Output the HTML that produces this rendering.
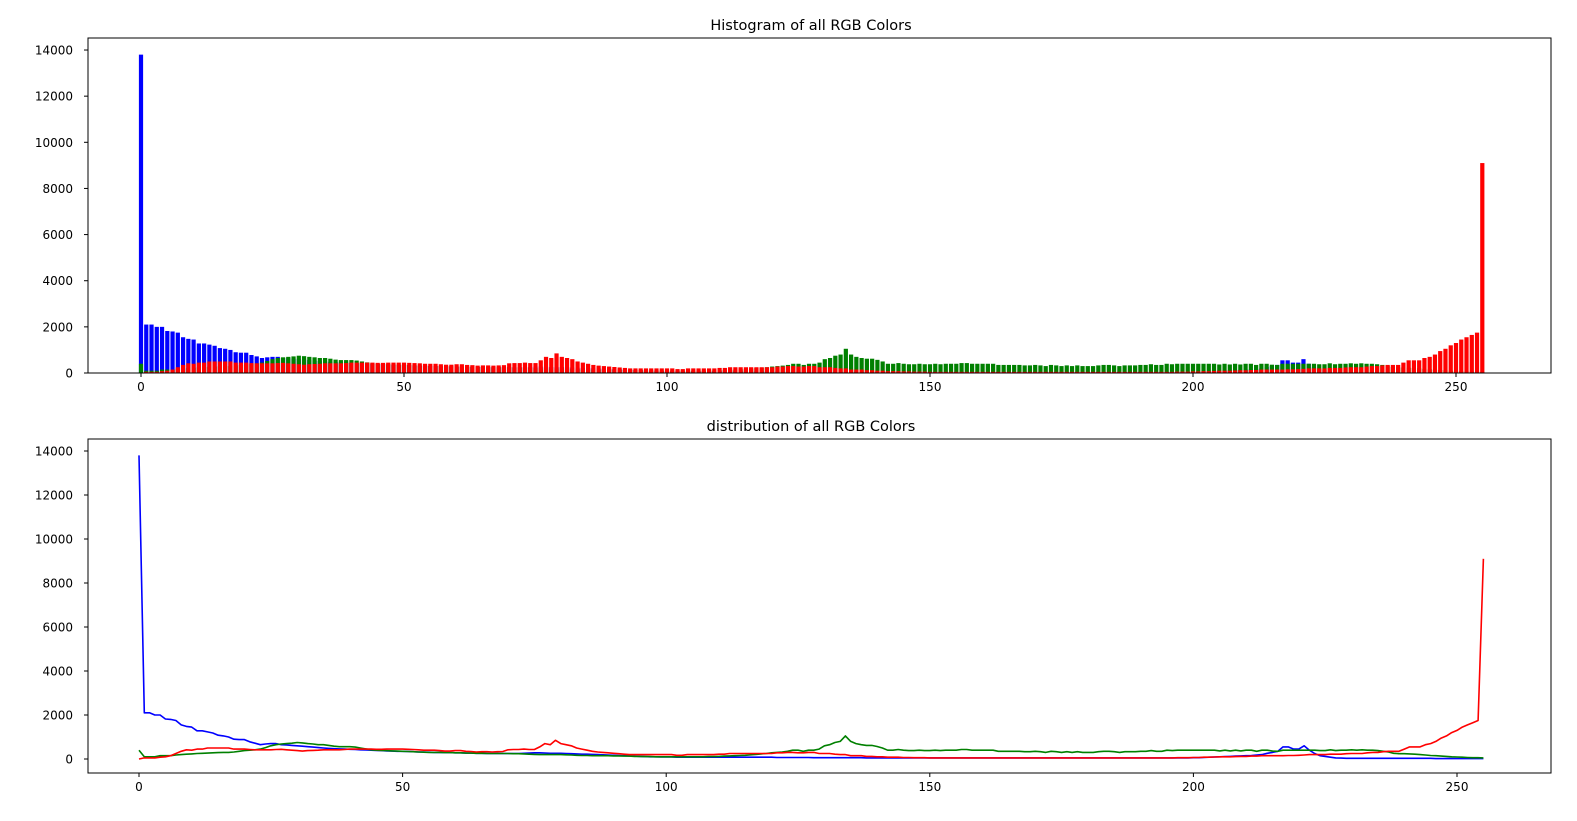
<!DOCTYPE html>
<html><head><meta charset="utf-8"><style>
body{margin:0;background:#fff}
svg{display:block}
text{font-family:"DejaVu Sans","Liberation Sans",sans-serif;font-size:12px;fill:#000}
</style></head><body>
<svg id="chart" width="1577" height="821" viewBox="0 0 1577 821" xmlns="http://www.w3.org/2000/svg">
<rect width="1577" height="821" fill="#fff"/>
<text x="811" y="30" text-anchor="middle" style="font-size:14.5px">Histogram of all RGB Colors</text>
<text x="811" y="431" text-anchor="middle" style="font-size:14.5px">distribution of all RGB Colors</text>
<g id="top"></g>
<g id="bot"></g>
</svg>
<script>
const xTicks=[0,50,100,150,200,250];
const yTicks=[0,2000,4000,6000,8000,10000,12000,14000];
const blue=[13800,2100,2100,2000,2000,1820,1800,1750,1550,1480,1450,1280,1280,1230,1180,1080,
1050,1000,900,880,880,780,720,650,680,700,700,650,640,620,600,580,
560,540,520,500,480,470,460,450,440,430,420,410,400,390,380,370,
360,350,350,340,330,320,320,310,300,300,290,290,280,280,270,270,
260,260,250,250,250,250,250,250,250,260,270,280,280,270,260,260,
260,250,240,230,220,220,210,200,190,180,170,160,150,140,130,120,
110,100,100,90,90,90,80,80,80,80,80,80,80,80,80,80,
80,80,80,80,80,80,80,80,80,70,70,70,70,70,70,70,
60,60,60,60,60,60,60,60,60,60,50,50,50,50,50,50,
50,50,50,50,50,50,50,50,50,50,50,50,50,50,50,50,
50,50,50,50,50,50,50,50,50,50,50,50,50,50,50,50,
50,50,50,50,50,50,50,50,50,50,50,50,50,50,50,50,
50,50,50,50,50,50,50,50,60,60,70,80,90,100,110,120,
130,140,150,160,180,200,260,300,350,550,550,450,450,600,400,250,
150,120,80,50,40,30,30,30,30,30,30,30,30,30,30,30,
30,30,30,30,30,30,20,20,20,20,20,20,20,20,20,20];
const green=[400,100,100,100,150,150,150,180,200,220,230,250,260,270,280,290,
300,300,320,350,380,400,420,450,520,600,650,680,700,720,750,730,
700,680,650,650,620,580,560,560,560,540,500,460,420,400,390,380,
370,360,350,340,330,320,310,300,300,300,290,290,280,280,270,270,
260,260,250,250,250,250,250,240,240,230,220,210,200,200,200,200,
200,190,180,170,160,160,150,150,150,150,140,140,130,130,120,120,
110,110,100,100,100,100,100,100,100,100,100,100,110,110,120,130,
140,150,160,170,190,210,230,250,280,300,320,350,400,400,350,400,
400,450,600,650,750,800,1050,800,700,650,620,620,570,500,400,400,
430,400,380,380,400,380,380,400,380,400,400,400,430,430,400,400,
400,400,400,350,350,350,350,350,330,330,350,330,300,350,330,300,
330,300,330,300,300,300,330,350,350,330,300,330,330,330,350,350,
380,350,350,400,380,400,400,400,400,400,400,400,400,370,400,370,
400,370,400,400,350,400,400,360,350,400,400,400,400,400,400,400,
380,380,420,380,400,400,420,400,420,400,400,380,350,320,260,240,
240,230,220,200,180,160,150,130,120,100,90,80,70,60,60,50];
const red=[0,50,50,50,80,100,150,250,350,420,400,450,450,500,500,500,
500,500,450,450,450,430,420,420,420,420,430,440,420,400,380,360,
380,390,400,420,420,420,420,430,450,450,450,450,450,440,440,450,
450,450,450,440,430,420,400,400,400,380,360,360,380,380,350,340,
320,330,330,320,330,340,420,430,430,450,430,430,550,700,650,850,
700,650,600,500,450,400,350,320,300,280,260,240,220,200,200,200,
200,200,200,200,200,200,170,170,200,200,200,200,200,200,220,220,
250,250,250,250,250,250,250,250,250,280,280,300,300,280,280,300,
300,250,250,250,220,200,200,150,150,150,120,120,100,100,80,80,
80,70,70,60,60,60,50,50,50,50,50,50,50,50,50,50,
50,50,50,50,50,50,50,50,50,50,50,50,50,50,50,50,
50,50,50,50,50,50,50,50,50,50,50,50,50,50,50,50,
50,50,50,50,50,60,60,60,70,70,80,80,90,100,100,100,
110,120,120,130,130,150,150,150,150,150,160,160,170,180,200,200,
200,200,220,220,220,240,250,250,250,280,300,300,330,350,350,350,
450,550,550,550,650,700,800,950,1050,1200,1300,1450,1550,1650,1750,9100];

const NS='http://www.w3.org/2000/svg';
function mk(p,tag,attrs){const e=document.createElementNS(NS,tag);for(const k in attrs)e.setAttribute(k,attrs[k]);p.appendChild(e);return e;}
function axes(g,ax,x,y){
  mk(g,'rect',{x:ax.l,y:ax.t,width:ax.r-ax.l,height:ax.b-ax.t,fill:'none',stroke:'#000','stroke-width':1});
  xTicks.forEach(v=>{
    const t=mk(g,'line',{x1:x(v),x2:x(v),y1:ax.b,y2:ax.b+4,stroke:'#000'});
    
    
    const l=mk(g,'text',{x:x(v),y:ax.b+18,'text-anchor':'middle'});l.textContent=v;
    
    
  });
  yTicks.forEach(v=>{
    const t=mk(g,'line',{x1:ax.l-4,x2:ax.l,y1:y(v),y2:y(v),stroke:'#000'});
    
    
    const l=mk(g,'text',{x:ax.l-15,y:y(v)+4.5,'text-anchor':'end'});l.textContent=v;
    
    
  });
}
const A1={l:88,r:1551,t:38,b:373};
const x1=v=>141+v*5.26, y1=v=>373-v*0.02307;
const gt=document.getElementById('top');
[[blue,'#0000ff','bar-blue'],[green,'#008000','bar-green'],[red,'#ff0000','bar-red']].forEach(([arr,c,n])=>{
  arr.forEach((v,i)=>{
    const r=mk(gt,'rect',{x:x1(i-0.4),y:y1(v),width:0.8*5.26,height:Math.max(0,373-y1(v)),fill:c});
    
    
  });
});
axes(gt,A1,x1,y1);
const A2={l:88,r:1551,t:439,b:773};
const x2=v=>139+v*5.272, y2=v=>759-v*0.022;
const gb=document.getElementById('bot');
[[blue,'#0000ff','line-blue'],[green,'#008000','line-green'],[red,'#ff0000','line-red']].forEach(([arr,c,n])=>{
  const p=mk(gb,'polyline',{points:arr.map((v,i)=>x2(i).toFixed(1)+','+y2(v).toFixed(1)).join(' '),fill:'none',stroke:c,'stroke-width':1.6,'stroke-linejoin':'round'});
  
  
});
axes(gb,A2,x2,y2);
</script>
</body></html>
